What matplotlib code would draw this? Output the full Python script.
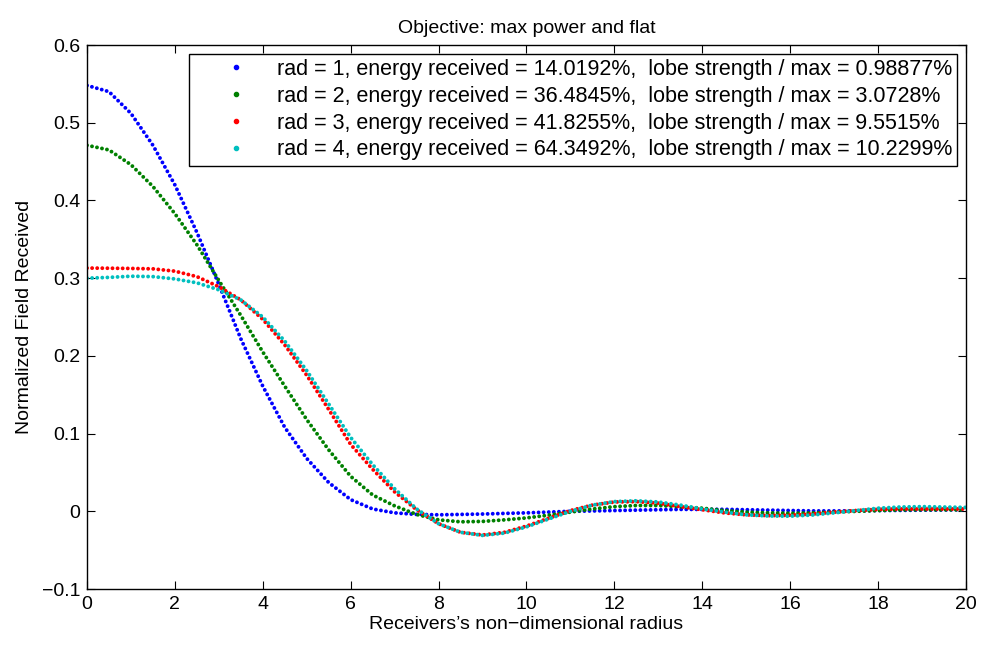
import matplotlib
matplotlib.use("Agg")
import matplotlib.pyplot as plt
from matplotlib.lines import Line2D

plt.rcParams['font.family'] = ['Liberation Sans', 'DejaVu Sans']

# radius samples (every 0.5)
radius = [0.0, 0.5, 1.0, 1.5, 2.0, 2.5, 3.0, 3.5, 4.0, 4.5,
          5.0, 5.5, 6.0, 6.5, 7.0, 7.5, 8.0, 8.5, 9.0, 9.5,
          10.0, 10.5, 11.0, 11.5, 12.0, 12.5, 13.0, 13.5, 14.0, 14.5,
          15.0, 15.5, 16.0, 16.5, 17.0, 17.5, 18.0, 18.5, 19.0, 19.5, 20.0]

field_rad1 = [0.548, 0.540, 0.512, 0.471, 0.420, 0.359, 0.292, 0.222, 0.161, 0.108,
              0.068, 0.037, 0.015, 0.003, -0.002, -0.004, -0.0045, -0.004, -0.0035, -0.0027,
              -0.002, -0.001, 0.0, 0.0005, 0.001, 0.0015, 0.002, 0.0025, 0.0025, 0.0025,
              0.002, 0.0015, 0.001, 0.0005, 0.0005, 0.0005, 0.001, 0.0012, 0.0015, 0.0017, 0.002]

field_rad2 = [0.471, 0.465, 0.446, 0.418, 0.383, 0.343, 0.297, 0.252, 0.205, 0.161,
              0.118, 0.079, 0.045, 0.021, 0.007, -0.004, -0.011, -0.0135, -0.013, -0.011,
              -0.0085, -0.005, -0.001, 0.003, 0.006, 0.0075, 0.0075, 0.006, 0.004, 0.001,
              -0.001, -0.002, -0.0025, -0.002, -0.001, 0.0, 0.001, 0.0018, 0.002, 0.002, 0.002]

field_rad3 = [0.313, 0.3128, 0.3125, 0.312, 0.309, 0.302, 0.289, 0.272, 0.247, 0.214,
              0.175, 0.131, 0.086, 0.054, 0.025, 0.002, -0.016, -0.027, -0.0305, -0.027,
              -0.019, -0.009, 0.001, 0.008, 0.012, 0.0125, 0.0105, 0.006, 0.002, -0.002,
              -0.0045, -0.0055, -0.005, -0.0035, -0.001, 0.001, 0.0025, 0.003, 0.003, 0.003, 0.003]

field_rad4 = [0.300, 0.301, 0.3025, 0.302, 0.299, 0.294, 0.285, 0.272, 0.250, 0.219,
              0.181, 0.138, 0.095, 0.060, 0.029, 0.003, -0.016, -0.027, -0.031, -0.028,
              -0.020, -0.010, 0.0, 0.008, 0.0125, 0.0135, 0.012, 0.008, 0.003, -0.001,
              -0.0045, -0.006, -0.0062, -0.0048, -0.002, 0.001, 0.004, 0.0055, 0.006, 0.0055, 0.005]

series = [field_rad1, field_rad2, field_rad3, field_rad4]
colors = ['#0000ff', '#008000', '#ff0000', '#00bfbf']
labels = ['rad = 1, energy received = 14.0192%,  lobe strength / max = 0.98877%',
          'rad = 2, energy received = 36.4845%,  lobe strength / max = 3.0728%',
          'rad = 3, energy received = 41.8255%,  lobe strength / max = 9.5515%',
          'rad = 4, energy received = 64.3492%,  lobe strength / max = 10.2299%']

xticks = [0, 2, 4, 6, 8, 10, 12, 14, 16, 18, 20]
yticks = [-0.1, 0, 0.1, 0.2, 0.3, 0.4, 0.5, 0.6]
ytick_labels = ['\u22120.1', '0', '0.1', '0.2', '0.3', '0.4', '0.5', '0.6']

fig = plt.figure(figsize=(9.83, 6.46), dpi=100)
ax = fig.add_axes([0.0885, 0.0882, 0.8942, 0.8421])

handles = []
for vals, c, lab in zip(series, colors, labels):
    ax.plot(radius, vals, color=c, lw=2.8, linestyle=(0, (0.01, 1.3)),
            dash_capstyle='round')
    handles.append(Line2D([], [], color=c, marker='.', linestyle='none',
                          markersize=6, label=lab))

ax.set_xlim(0, 20)
ax.set_ylim(-0.1, 0.6)
ax.set_xticks(xticks)
ax.set_xticklabels([str(t) for t in xticks])
ax.set_yticks(yticks)
ax.set_yticklabels(ytick_labels)
ax.tick_params(direction='in', length=6, width=0.8, top=True, right=True,
               labelsize=14, pad=5)
for s in ax.spines.values():
    s.set_linewidth(1.0)

ax.set_title('Objective: max power and flat', fontsize=14, pad=9)
ax.set_xlabel('Receivers\u2019s non\u2212dimensional radius', fontsize=14, labelpad=2)
ax.set_ylabel('Normalized Field Received', fontsize=14, labelpad=6)

leg = ax.legend(handles=handles, loc='upper right', fontsize=15.5, frameon=True,
                fancybox=False, edgecolor='black', framealpha=1,
                borderaxespad=0.4, handlelength=3.8, handletextpad=0.0,
                labelspacing=0.27, borderpad=0.25)
leg.get_frame().set_linewidth(1.0)

fig.savefig('out.png', dpi=100)
